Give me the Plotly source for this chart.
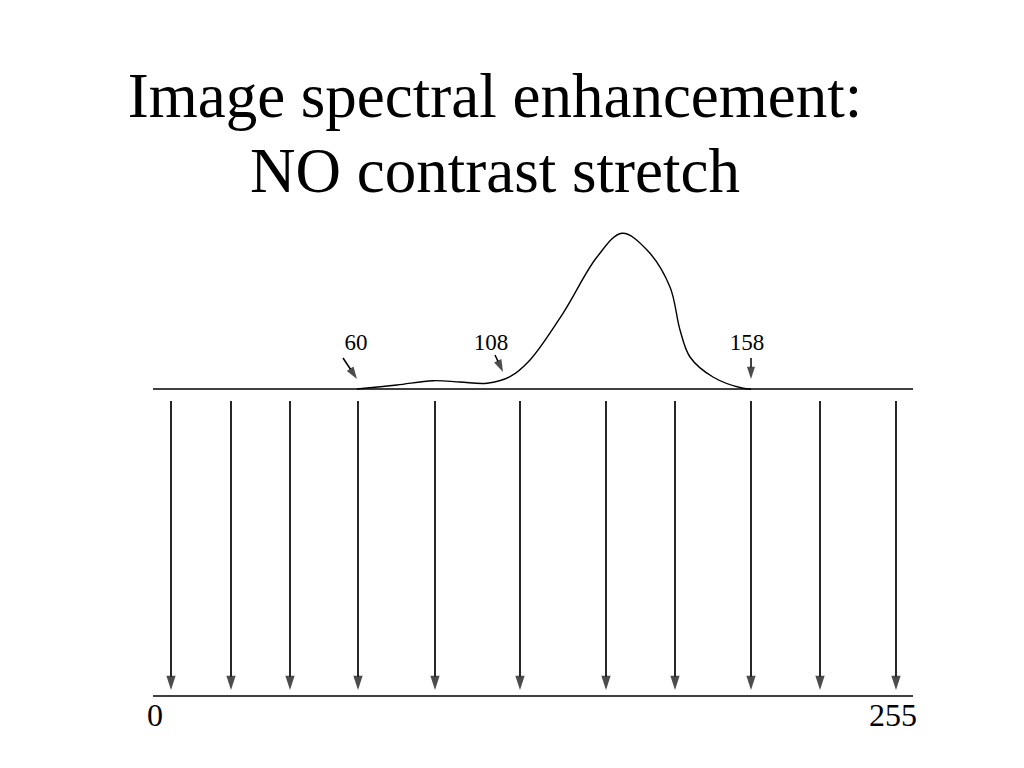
import plotly.graph_objects as go

# Schematic coordinates: x = horizontal position, h = height above the histogram baseline
curve_x = [357, 397, 433, 460, 487, 510, 530, 563, 597, 622, 647, 670, 680, 690, 713, 743, 751]
curve_h = [0, 4, 8.3, 7, 5.7, 12.3, 29, 75.7, 132, 155.7, 139, 102, 59, 32, 12, 0.7, 0]

line_x_start = 153
line_x_end = 913
top_line_h = 0
bottom_line_h = -307

arrow_x = [171, 231, 290, 358, 435, 520, 606, 675, 751, 820, 896]
arrow_top_h = -12
arrow_tip_h = -301

marker_labels = ["60", "108", "158"]
marker_label_x = [356, 491, 747]
marker_label_h = 45
marker_arrow_from = [(343, 31), (495, 34), (751, 31)]
marker_arrow_to = [(357, 10), (503, 17), (751, 10)]

end_labels = ["0", "255"]
end_label_x = [155, 893]
end_label_h = -329

title_lines = ["Image spectral enhancement:", "NO contrast stretch"]
title_h = [288, 213]
title_x = 495

SERIF = "Liberation Serif, Times New Roman, serif"

fig = go.Figure()

# baselines
fig.add_trace(go.Scatter(
    x=[line_x_start, line_x_end, None, line_x_start, line_x_end],
    y=[top_line_h, top_line_h, None, bottom_line_h, bottom_line_h],
    mode="lines", line=dict(color="black", width=1.5), hoverinfo="skip"))

# histogram curve
fig.add_trace(go.Scatter(
    x=curve_x, y=curve_h, mode="lines",
    line=dict(color="black", width=1.4, shape="spline", smoothing=1.0),
    hoverinfo="skip"))

# vertical mapping arrows
for ax in arrow_x:
    fig.add_trace(go.Scatter(
        x=[ax, ax], y=[arrow_top_h, arrow_tip_h], mode="lines+markers",
        line=dict(color="black", width=1.7),
        marker=dict(symbol="arrow", size=[0, 15], color="black", angleref="previous",
                    line=dict(width=0)),
        hoverinfo="skip"))

# small arrows pointing at 60, 108, 158
for (x0, y0), (x1, y1) in zip(marker_arrow_from, marker_arrow_to):
    fig.add_trace(go.Scatter(
        x=[x0, x1], y=[y0, y1], mode="lines+markers",
        line=dict(color="black", width=1.5),
        marker=dict(symbol="arrow", size=[0, 13], color="black", angleref="previous",
                    line=dict(width=0)),
        hoverinfo="skip"))

# small labels
fig.add_trace(go.Scatter(
    x=marker_label_x, y=[marker_label_h] * len(marker_labels), mode="text",
    text=marker_labels, textfont=dict(family=SERIF, size=23, color="black"),
    hoverinfo="skip"))

# end labels
fig.add_trace(go.Scatter(
    x=end_label_x, y=[end_label_h] * len(end_labels), mode="text",
    text=end_labels, textfont=dict(family=SERIF, size=32, color="black"),
    hoverinfo="skip"))

# title
fig.add_trace(go.Scatter(
    x=[title_x] * len(title_lines), y=title_h, mode="text",
    text=title_lines, textfont=dict(family=SERIF, size=63, color="black"),
    hoverinfo="skip"))

# the page body has an 8px margin, so the axes ranges are offset to compensate
fig.update_layout(
    width=1008, height=752,
    margin=dict(l=0, r=0, t=0, b=0),
    paper_bgcolor="white", plot_bgcolor="white",
    showlegend=False,
    xaxis=dict(range=[8, 1016], visible=False, fixedrange=True),
    yaxis=dict(range=[-371, 381], visible=False, fixedrange=True),
)

fig.write_html("out.html")
